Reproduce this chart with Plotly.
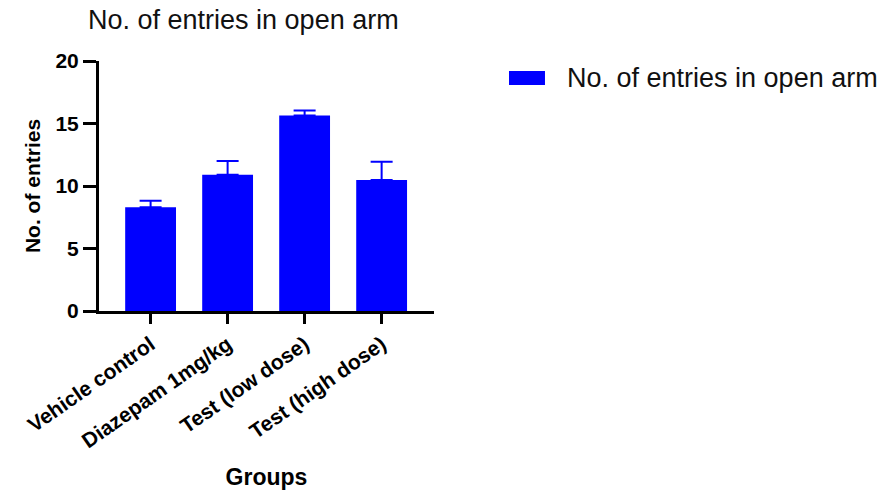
import plotly.graph_objects as go

groups = ["Vehicle control", "Diazepam 1mg/kg", "Test (low dose)", "Test (high dose)"]
means = [8.3, 10.9, 15.65, 10.48]
errors = [0.53, 1.1, 0.4, 1.47]
series_name = "No. of entries in open arm"
y_ticks = [0, 5, 10, 15, 20]

FONT = "Liberation Sans, Arial, sans-serif"
BLUE = "#0000FF"

fig = go.Figure()
fig.add_trace(go.Bar(
    x=list(range(len(groups))),
    y=means,
    name=series_name,
    width=0.66,
    marker=dict(color=BLUE, line=dict(width=0)),
    error_y=dict(type="data", array=errors, arrayminus=[0] * len(errors),
                 symmetric=False, color=BLUE, thickness=2, width=11),
    showlegend=False,
))

# legend swatch and label
fig.add_shape(type="rect", xref="paper", yref="paper",
              x0=1.2239, x1=1.3313, y0=0.904, y1=0.96,
              fillcolor=BLUE, line=dict(width=0))
fig.add_annotation(text=series_name, xref="paper", yref="paper",
                   x=1.391, y=0.932, xanchor="left", yanchor="middle",
                   showarrow=False, font=dict(family=FONT, size=27, color="#111111"))

fig.update_layout(
    width=887, height=493,
    margin=dict(l=99, r=453, t=61, b=182, autoexpand=False),
    paper_bgcolor="white", plot_bgcolor="white",
    font=dict(family=FONT, color="black"),
    title=dict(text=series_name, x=88 / 887, xanchor="left", xref="container",
               y=1 - 20 / 493, yanchor="middle", yref="container",
               font=dict(family=FONT, size=27, color="#111111")),
    bargap=0.34,
)
fig.update_xaxes(
    range=[-0.67, 3.68], automargin=False,
    tickmode="array", tickvals=list(range(len(groups))), ticktext=groups,
    tickangle=-35,
    tickfont=dict(family=FONT, size=21, weight="bold", color="black"),
    showline=True, linecolor="black", linewidth=3,
    ticks="outside", ticklen=10, tickwidth=3, tickcolor="black",
    showgrid=False, zeroline=False,
    title=dict(text="Groups", font=dict(family=FONT, size=23, weight="bold", color="black"), standoff=18),
)
fig.update_yaxes(
    range=[0, 20], automargin=False,
    tickmode="array", tickvals=y_ticks,
    tickfont=dict(family=FONT, size=21, weight="bold", color="black"),
    showline=True, linecolor="black", linewidth=3,
    ticks="outside", ticklen=13, tickwidth=3, tickcolor="black",
    showgrid=False, zeroline=False,
    title=dict(text="No. of entries", font=dict(family=FONT, size=21, weight="bold", color="black"), standoff=10),
)

fig.write_html("out.html")
